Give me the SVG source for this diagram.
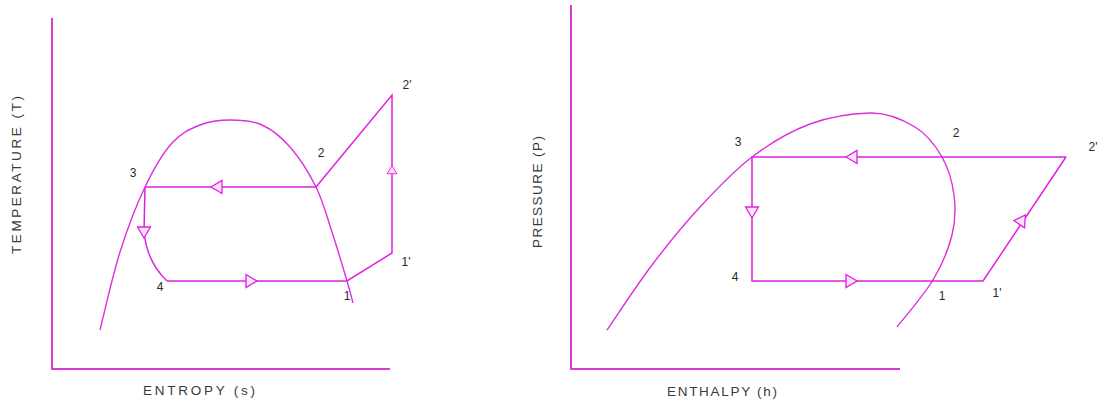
<svg xmlns="http://www.w3.org/2000/svg" xmlns:xlink="http://www.w3.org/1999/xlink" width="1103" height="403" viewBox="0 0 1103 403">
<style>
.ax{stroke:#d63fd6;stroke-width:2;fill:none}
.ln{stroke:#e020e0;stroke-width:1.5;fill:none;stroke-linejoin:miter}
.cv{stroke:#dd2edd;stroke-width:1.4;fill:none}
.lbl{font-family:"Liberation Sans",Arial,sans-serif;font-size:12px;fill:#2a2a2a;text-anchor:middle}
.ttl{font-family:"Liberation Sans",Arial,sans-serif;font-size:13.5px;fill:#3a3a3a;text-anchor:middle}
</style>
<defs>
<path id="tri" d="M-5,-6.5 L6,0 L-5,6.5 Z" fill="#fbe3fb" stroke="#e020e0" stroke-width="1.3"/>
</defs>
<rect width="1103" height="403" fill="#ffffff"/>

<g id="ts-diagram">
  <g id="ts-axes">
    <path class="ax" d="M52,18 V369 H390"/>
    <text class="ttl" x="199" y="395" textLength="112" lengthAdjust="spacing">ENTROPY (s)</text>
    <text class="ttl" transform="translate(21,175) rotate(-90)" x="0" y="0" textLength="158" lengthAdjust="spacing">TEMPERATURE (T)</text>
  </g>
  <path id="ts-dome" class="cv" d="M100,330 C103.3,317 112.5,275.8 120,252 C127.5,228.2 136.3,205.2 145,187 C153.7,168.8 162.8,153.3 172,143 C181.2,132.7 190.3,128.8 200,125 C209.7,121.2 219.7,120 230,120 C240.3,120 252,120.5 262,125 C272,129.5 281,136.7 290,147 C299,157.3 309,172.8 316,187 C323,201.2 326.8,216.3 332,232 C337.2,247.7 343.5,269.2 347,281 C350.5,292.8 352,299.3 353,303"/>
  <g id="ts-connectors">
    <path class="ln" d="M316,187 H145"/>
    <path class="ln" d="M316,187 L392,95 V253 L347,281 H167"/>
    <path class="ln" d="M145,187 L144,232 Q147,262 167,281"/>
    <use xlink:href="#tri" href="#tri" transform="translate(217,187) rotate(180)"/>
    <use xlink:href="#tri" href="#tri" transform="translate(251,281)"/>
    <use xlink:href="#tri" href="#tri" transform="translate(392,170) rotate(-90) scale(0.75)"/>
    <use xlink:href="#tri" href="#tri" transform="translate(144,232) rotate(90)"/>
  </g>
  <g id="ts-labels">
    <text class="lbl" x="133" y="177">3</text>
    <text class="lbl" x="321" y="157">2</text>
    <text class="lbl" x="407" y="89">2'</text>
    <text class="lbl" x="406" y="266">1'</text>
    <text class="lbl" x="160" y="291">4</text>
    <text class="lbl" x="347" y="300">1</text>
  </g>
</g>

<g id="ph-diagram">
  <g id="ph-axes">
    <path class="ax" d="M571,5 V369 H900"/>
    <text class="ttl" x="722" y="396" textLength="110" lengthAdjust="spacing">ENTHALPY (h)</text>
    <text class="ttl" transform="translate(542,192) rotate(-90)" x="0" y="0" textLength="112" lengthAdjust="spacing">PRESSURE (P)</text>
  </g>
  <path id="ph-dome" class="cv" d="M607,330 C614.5,319.2 636.5,285.5 652,265 C667.5,244.5 683.3,225 700,207 C716.7,189 733.7,170.8 752,157 C770.3,143.2 790.3,131.3 810,124 C829.7,116.7 852.5,113.5 870,113 C887.5,112.5 903,119.7 915,127 C927,134.3 935.5,145.7 942,157 C948.5,168.3 952.3,182 954,195 C955.7,208 955.5,220.8 952,235 C948.5,249.2 942.2,264.7 933,280 C923.8,295.3 903,319.2 897,327"/>
  <g id="ph-connectors">
    <path class="ln" d="M1066,157 H752 V281 H983 L1066,157"/>
    <use xlink:href="#tri" href="#tri" transform="translate(852,157) rotate(180)"/>
    <use xlink:href="#tri" href="#tri" transform="translate(851,281)"/>
    <use xlink:href="#tri" href="#tri" transform="translate(752,212) rotate(90)"/>
    <use xlink:href="#tri" href="#tri" transform="translate(1022,220) rotate(-56)"/>
  </g>
  <g id="ph-labels">
    <text class="lbl" x="738" y="146">3</text>
    <text class="lbl" x="956" y="137">2</text>
    <text class="lbl" x="1093" y="151">2'</text>
    <text class="lbl" x="735" y="281">4</text>
    <text class="lbl" x="942" y="300">1</text>
    <text class="lbl" x="997" y="297">1'</text>
  </g>
</g>
</svg>
